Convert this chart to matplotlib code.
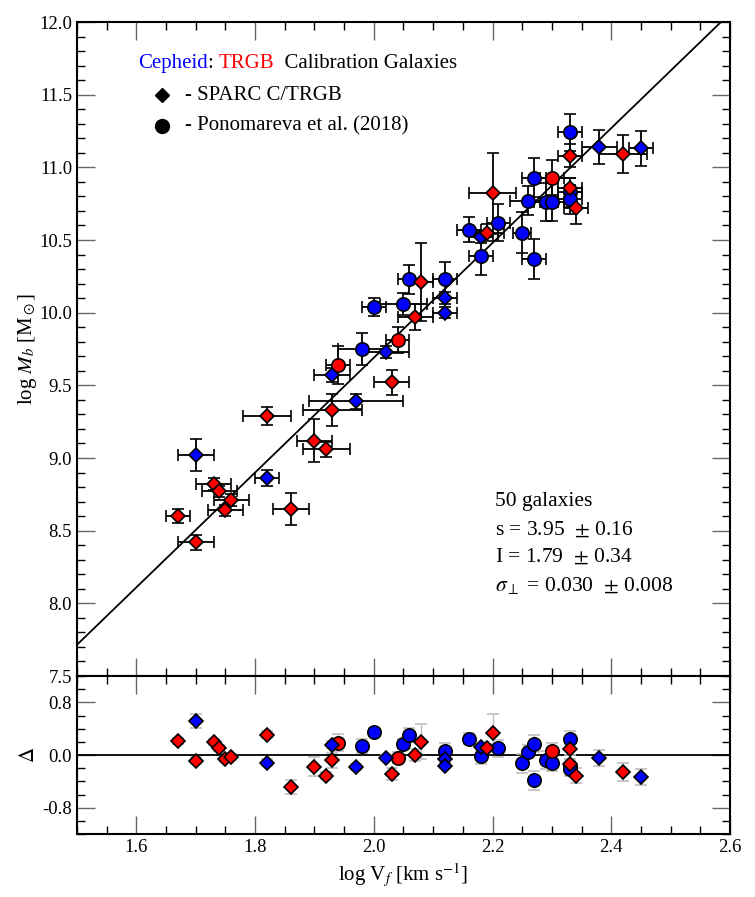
import numpy as np
import matplotlib
matplotlib.use("Agg")
import matplotlib.pyplot as plt
from matplotlib.ticker import MultipleLocator, FormatStrFormatter

plt.rcParams['font.family'] = ['Liberation Serif', 'DejaVu Serif']
plt.rcParams['mathtext.fontset'] = 'stix'
plt.rcParams['axes.unicode_minus'] = True

# fit parameters
slope = 3.95
icept = 1.79

# SPARC C/TRGB - TRGB (red diamonds)
rd_x = [1.67, 1.70, 1.73, 1.74, 1.75, 1.76, 1.82, 1.86, 1.90, 1.92,
        1.93, 2.03, 2.07, 2.08, 2.19, 2.20, 2.33, 2.33, 2.34, 2.42]
rd_y = [8.60, 8.42, 8.82, 8.77, 8.64, 8.71, 9.29, 8.65, 9.12, 9.06,
        9.33, 9.52, 9.97, 10.21, 10.55, 10.82, 10.86, 11.08, 10.72, 11.09]
rd_xe = [0.02, 0.03, 0.03, 0.03, 0.03, 0.03, 0.04, 0.03, 0.03, 0.04,
         0.05, 0.03, 0.03, 0.02, 0.03, 0.04, 0.02, 0.02, 0.02, 0.04]
rd_ye = [0.05, 0.05, 0.04, 0.04, 0.04, 0.04, 0.06, 0.11, 0.15, 0.05,
         0.11, 0.085, 0.09, 0.27, 0.06, 0.28, 0.07, 0.08, 0.11, 0.13]

# SPARC C/TRGB - Cepheid (blue diamonds)
bd_x = [1.70, 1.82, 1.93, 1.97, 2.02, 2.12, 2.12, 2.18, 2.38, 2.45]
bd_y = [9.02, 8.86, 9.57, 9.39, 9.73, 10.10, 10.00, 10.52, 11.14, 11.13]
bd_xe = [0.03, 0.02, 0.03, 0.08, 0.04, 0.02, 0.02, 0.02, 0.03, 0.02]
bd_ye = [0.11, 0.055, 0.05, 0.05, 0.04, 0.04, 0.04, 0.04, 0.12, 0.12]

# Ponomareva et al. (2018) - TRGB (red circles)
rc_x = [1.94, 2.04, 2.30]
rc_y = [9.64, 9.81, 10.93]
rc_xe = [0.02, 0.02, 0.02]
rc_ye = [0.13, 0.09, 0.12]

# Ponomareva et al. (2018) - Cepheid (blue circles)
bc_x = [1.98, 2.00, 2.05, 2.06, 2.12, 2.16, 2.18, 2.21, 2.25, 2.26,
        2.27, 2.27, 2.29, 2.30, 2.33, 2.33, 2.33]
bc_y = [9.75, 10.04, 10.06, 10.23, 10.23, 10.57, 10.39, 10.62, 10.55, 10.77,
        10.93, 10.37, 10.76, 10.76, 11.24, 10.83, 10.78]
bc_xe = [0.04, 0.02, 0.04, 0.02, 0.02, 0.02, 0.02, 0.02, 0.015, 0.03,
         0.02, 0.02, 0.02, 0.02, 0.02, 0.02, 0.02]
bc_ye = [0.11, 0.06, 0.075, 0.10, 0.12, 0.085, 0.13, 0.125, 0.14, 0.10,
         0.135, 0.14, 0.13, 0.13, 0.125, 0.10, 0.10]

groups = [
    (bc_x, bc_y, bc_xe, bc_ye, 'o', 'blue', 9.6),
    (rc_x, rc_y, rc_xe, rc_ye, 'o', 'red', 9.6),
    (bd_x, bd_y, bd_xe, bd_ye, 'D', 'blue', 7.6),
    (rd_x, rd_y, rd_xe, rd_ye, 'D', 'red', 7.6),
]

fig = plt.figure(figsize=(7.55, 8.97), dpi=100)
ax = fig.add_axes([77/755, 1-676/897, 653/755, 654/897])
axr = fig.add_axes([77/755, 1-834/897, 653/755, 158/897], sharex=ax)

for x, y, xe, ye, mk, col, ms in groups:
    _, caps, _ = ax.errorbar(x, y, xerr=xe, yerr=ye, fmt=mk, mfc=col, mec='black',
                             mew=1.2, ms=ms, ecolor='black', elinewidth=1.3,
                             capsize=4, capthick=1.3, zorder=3)
    for c in caps:
        c.set_color('0.45')
    res = np.array(y) - (slope*np.array(x) + icept)
    axr.errorbar(x, res, yerr=ye, fmt=mk, mfc=col, mec='black', mew=1.2, ms=ms,
                 ecolor='0.75', elinewidth=1.0, capsize=4, capthick=1.0, zorder=3)

xl = np.array([1.5, 2.6])
ax.plot(xl, slope*xl + icept, color='black', lw=1.3, zorder=2)
axr.axhline(0.0, color='black', lw=1.3, zorder=2)

ax.set_xlim(1.5, 2.6)
ax.set_ylim(7.5, 12.0)
axr.set_ylim(-1.2, 1.2)

ax.xaxis.set_major_locator(MultipleLocator(0.2))
ax.xaxis.set_minor_locator(MultipleLocator(0.05))
ax.yaxis.set_major_locator(MultipleLocator(0.5))
ax.yaxis.set_minor_locator(MultipleLocator(0.1))
ax.yaxis.set_major_formatter(FormatStrFormatter('%.1f'))
axr.yaxis.set_major_locator(MultipleLocator(0.8))
axr.yaxis.set_minor_locator(MultipleLocator(0.2))
axr.yaxis.set_major_formatter(FormatStrFormatter('%.1f'))
axr.xaxis.set_major_formatter(FormatStrFormatter('%.1f'))

for a in (ax, axr):
    a.tick_params(which='both', direction='in', top=True, right=True, labelsize=13.5)
    a.tick_params(which='major', length=13, width=1.0, color='0.4')
    a.tick_params(which='minor', length=6, width=1.0, color='black')
    for sp in a.spines.values():
        sp.set_linewidth(1.5)
plt.setp(ax.get_xticklabels(), visible=False)

ax.set_ylabel(r'log $M_b$ [M$_\odot$]', fontsize=15)
axr.set_ylabel(r'$\Delta$', fontsize=15)
axr.set_xlabel(r'log V$_f$ [km s$^{-1}$]', fontsize=15)
ax.yaxis.set_label_coords(-0.058, 0.5)
axr.yaxis.set_label_coords(-0.058, 0.5)

# legend-like header
fs = 15
t1 = ax.text(0.0934, 0.9364, 'Cepheid', color='blue', fontsize=fs,
             transform=ax.transAxes, va='center', ha='left')
t2 = ax.annotate(': ', xy=(1, 0), xycoords=t1, va='bottom', ha='left',
                 fontsize=fs, color='black')
t3 = ax.annotate('TRGB', xy=(1, 0), xycoords=t2, va='bottom', ha='left',
                 fontsize=fs, color='red')
ax.annotate('  Calibration Galaxies', xy=(1, 0), xycoords=t3, va='bottom',
            ha='left', fontsize=fs, color='black')

ax.plot([0.1296], [0.888], marker='D', color='black', ms=7.5, transform=ax.transAxes)
ax.text(0.1654, 0.888, '- SPARC C/TRGB', fontsize=fs, transform=ax.transAxes,
        va='center', ha='left')
ax.plot([0.1296], [0.841], marker='o', color='black', ms=10, transform=ax.transAxes)
ax.text(0.1654, 0.841, '- Ponomareva et al. (2018)', fontsize=fs,
        transform=ax.transAxes, va='center', ha='left')

stats = ['50 galaxies',
         r's = 3.95  $\pm$ 0.16',
         r'I = 1.79  $\pm$ 0.34',
         r'$\sigma_\perp$ = 0.030  $\pm$ 0.008']
ys = [0.2668, 0.2241, 0.1814, 0.1387]
for s, yy in zip(stats, ys):
    ax.text(0.640, yy, s, fontsize=15.5, transform=ax.transAxes, va='center', ha='left')

fig.savefig('out.png', dpi=100)
